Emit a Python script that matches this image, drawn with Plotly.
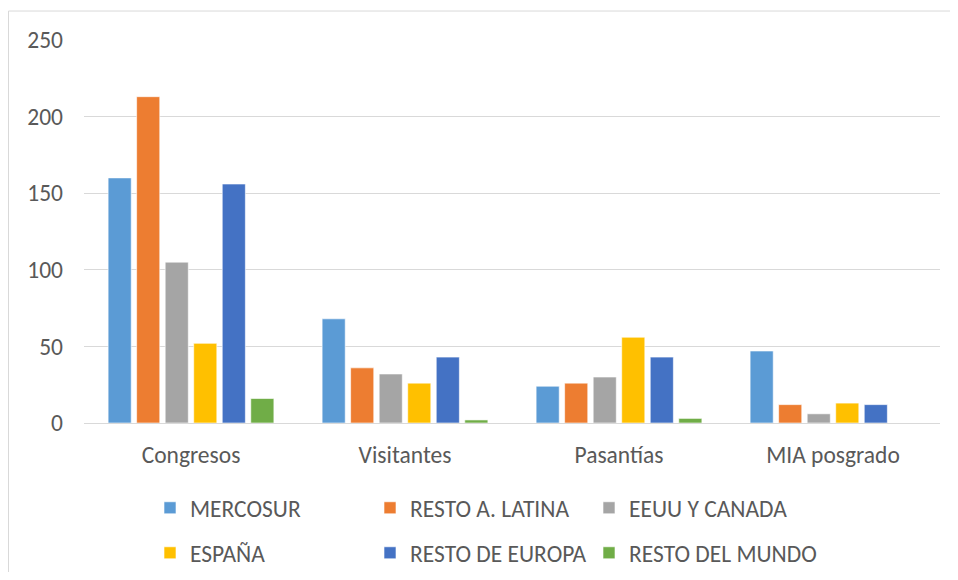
import plotly.graph_objects as go

categories = ["Congresos", "Visitantes", "Pasantías", "MIA posgrado"]
series_names = ["MERCOSUR", "RESTO A. LATINA", "EEUU Y CANADA", "ESPAÑA", "RESTO DE EUROPA", "RESTO DEL MUNDO"]
mercosur = [160, 68, 24, 47]
resto_latina = [213, 36, 26, 12]
eeuu_canada = [105, 32, 30, 6]
espana = [52, 26, 56, 13]
resto_europa = [156, 43, 43, 12]
resto_mundo = [16, 2, 3, 0]
y_ticks = [0, 50, 100, 150, 200, 250]

values = [mercosur, resto_latina, eeuu_canada, espana, resto_europa, resto_mundo]
colors = ["#5B9BD5", "#ED7D31", "#A5A5A5", "#FFC000", "#4472C4", "#70AD47"]
legend_ids = ["legend", "legend3", "legend5", "legend2", "legend4", "legend6"]

FONT = "Calibri, Carlito, Roboto, sans-serif"
TXT = "#595959"
FS = 23.5

fig = go.Figure()
for name, vals, col, lg in zip(series_names, values, colors, legend_ids):
    fig.add_trace(go.Bar(
        x=categories, y=vals, name=name, legend=lg,
        marker=dict(color=col, line=dict(color="rgba(255,255,255,0.6)", width=1)),
    ))

# page body has an 8px margin: figure pixel = screen pixel - 8
OFF = 8
W, H = 942, 564
L, R, T = 76, 10, 32
B = H - 415.3
pw, ph = W - L - R, H - T - B

def px_x(p):
    return (p - OFF - L) / pw

def px_y(p):
    return (H - B - (p - OFF)) / ph

def cx(p):
    return (p - OFF) / W

def cy(p):
    return 1 - (p - OFF) / H

legend_common = dict(
    font=dict(family=FONT, size=FS, color=TXT),
    bgcolor="rgba(0,0,0,0)", borderwidth=0,
    xref="container", yref="container",
    xanchor="left", yanchor="middle", orientation="v",
)
col_x = [150, 370, 589]
row_y = [508, 553]
layout_legends = {}
ids_grid = [["legend", "legend3", "legend5"], ["legend2", "legend4", "legend6"]]
for r, row in enumerate(ids_grid):
    for c, lid in enumerate(row):
        layout_legends[lid] = dict(legend_common, x=cx(col_x[c]), y=cy(row_y[r]))

fig.update_layout(
    width=W, height=H,
    margin=dict(l=L, r=R, t=T, b=B, autoexpand=False),
    paper_bgcolor="white", plot_bgcolor="white",
    barmode="group", bargap=0.2, bargroupgap=0.19,
    showlegend=True,
    font=dict(family=FONT, size=FS, color=TXT),
    **layout_legends,
)
fig.update_yaxes(
    range=[0, 250], tickvals=y_ticks, showgrid=True, gridcolor="#D9D9D9", gridwidth=1.3,
    zeroline=False, showline=False, ticks="", ticklabelstandoff=20,
    tickfont=dict(family=FONT, size=FS, color=TXT),
)
fig.update_xaxes(
    showline=True, linecolor="#D9D9D9", linewidth=1.3, ticks="", ticklabelstandoff=11,
    tickfont=dict(family=FONT, size=FS, color=TXT),
)
fig.add_shape(type="rect", xref="paper", yref="paper",
              x0=px_x(8.5), x1=px_x(955), y0=px_y(590), y1=px_y(11),
              line=dict(color="#D9D9D9", width=1), fillcolor="rgba(0,0,0,0)", layer="below")

fig.write_html("out.html")
